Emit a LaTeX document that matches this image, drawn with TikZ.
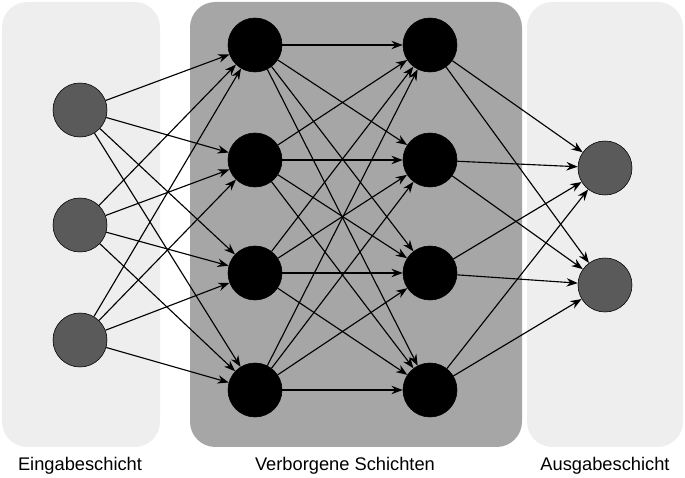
\documentclass[tikz,border=0pt]{standalone}
\usepackage{fontspec}
\setmainfont{Liberation Sans}
\usetikzlibrary{positioning,arrows.meta}
\definecolor{panellight}{HTML}{EEEEEE}
\definecolor{paneldark}{HTML}{A6A6A6}
\definecolor{neurongray}{HTML}{5A5A5A}
\tikzset{
	panel/.style={rounded corners=18pt,draw=none},
	inneuron/.style={circle,draw=black,fill=neurongray,minimum size=1.35cm,inner sep=0pt},
	hidneuron/.style={circle,draw=black,fill=black,minimum size=1.35cm,inner sep=0pt},
	link/.style={-{Stealth[length=8pt,width=6pt]},thick},
	caption/.style={font=\fontsize{13}{15}\selectfont}
}
\begin{document}
\begin{tikzpicture}[x=0.025cm,y=-0.025cm]
	\useasboundingbox (0,0) rectangle (685,478);
	% background panels
	\fill[panel,panellight] (2,2) rectangle (160,447);
	\fill[panel,paneldark] (190,2) rectangle (522,447);
	\fill[panel,panellight] (527,2) rectangle (683,447);

	% neurons
	\foreach \i/\y in {1/110,2/225,3/340}
		\node[inneuron] (in\i) at (80,\y) {};
	\foreach \i/\y in {1/45,2/160,3/273,4/390} {
		\node[hidneuron] (ha\i) at (255,\y) {};
		\node[hidneuron] (hb\i) at (430,\y) {};
	}
	\foreach \i/\y in {1/168,2/285}
		\node[inneuron] (out\i) at (605,\y) {};

	% connections
	\foreach \i in {1,2,3}
		\foreach \j in {1,2,3,4}
			\draw[link] (in\i) -- (ha\j);
	\foreach \i in {1,2,3,4}
		\foreach \j in {1,2,3,4}
			\draw[link] (ha\i) -- (hb\j);
	\foreach \i in {1,2,3,4}
		\foreach \j in {1,2}
			\draw[link] (hb\i) -- (out\j);

	% captions
	\node[caption] (capin) at (80,466) {Eingabeschicht};
	\node[caption] (caphid) at (345,466) {Verborgene Schichten};
	\node[caption] (capout) at (605,466) {Ausgabeschicht};
\end{tikzpicture}
\end{document}
